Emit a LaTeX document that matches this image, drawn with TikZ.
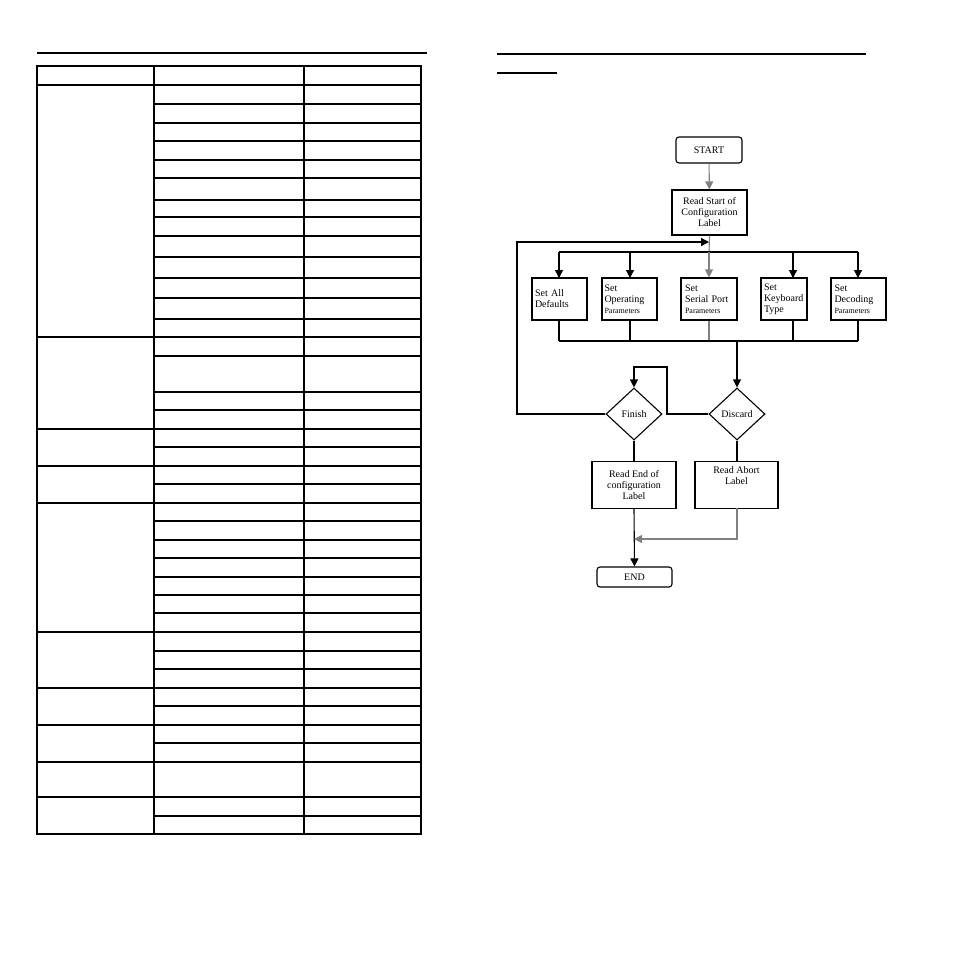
\documentclass[tikz,border=0pt]{standalone}
\usepackage{fontspec}
\setmainfont{Liberation Serif}
\usetikzlibrary{shapes.geometric,arrows.meta}
\newcommand{\smallp}{\fontsize{8}{10}\selectfont}
\begin{document}
\begin{tikzpicture}[x=1pt,y=-1pt,
  thin/.style={line width=1.1pt},
  thick/.style={line width=2pt},
  fbox/.style={draw,thin,rectangle,inner sep=0pt,align=center,font=\fontsize{10}{11}\selectfont},
  sbox/.style={fbox,align=left,minimum height=42pt},
  term/.style={fbox,rounded corners=3pt},
  dec/.style={draw,thin,diamond,inner sep=0pt,minimum width=56pt,minimum height=52pt,font=\fontsize{10}{11}\selectfont},
  conn/.style={thin,-{Triangle[length=8pt,width=8pt]}},
  line/.style={thin}]
\useasboundingbox (0,0) rectangle (966,954);
% ---- table ----
\draw[thick] (37,53) -- (427,53);
\draw[thick] (37,66) rectangle (421,834);
\draw[thick] (154,66) -- (154,834);
\draw[thick] (304,66) -- (304,834);
\draw[thick] (37,85) -- (421,85);
\foreach \y in {337,429,466,503,632,688,725,762,797} \draw[thick] (37,\y) -- (421,\y);
\foreach \y in {104,141,178,200,217,236,298,319,356,410,447,484,521,558,577,595,613,651,669,706,743,816} \draw[thin] (154,\y) -- (421,\y);
\foreach \y in {123,160,257,278,392,540} \draw[thick] (154,\y) -- (421,\y);
% ---- flowchart ----
\draw[thick] (497,54) -- (866,54);
\draw[thick] (497,73) -- (557,73);
\node[term,minimum width=66pt,minimum height=26pt] (start) at (709,150) {START};
\node[fbox,minimum width=75pt,minimum height=45pt] (rs) at (709.5,212.5) {Read Start of\\Configuration\\Label};
\coordinate (tap) at (709,252);
\coordinate (loopin) at (709,242);
\draw[conn,gray] (start) -- (rs);
\draw[line,gray] (rs.south) -- (tap);
\node[sbox,minimum width=55pt,text width=49pt] (b1) at (559.5,299) {Set All\\Defaults\\[8pt]};
\node[sbox,minimum width=55pt,text width=50pt] (b2) at (629.5,299) {Set\\Operating\\{\smallp Parameters}};
\node[sbox,minimum width=56pt,text width=48pt] (b3) at (709,299) {Set\\Serial Port\\{\smallp Parameters}};
\node[sbox,minimum width=46pt,text width=40pt] (b4) at (784,299) {Set\\Keyboard\\Type};
\node[sbox,minimum width=55pt,text width=48pt] (b5) at (858.5,299) {Set\\Decoding\\{\smallp Parameters}};
\draw[line] (559,252) -- (858,252);
\foreach \n/\x in {b1/559,b2/630,b4/793,b5/858} \draw[conn] (\x,252) -- (\x,278);
\draw[conn,gray] (tap) -- (b3.north);
\foreach \x in {559,630,793,858} \draw[line] (\x,320) -- (\x,341);
\draw[line,gray] (b3.south) -- (709,341);
\draw[line] (559,341) -- (858,341);
\node[dec] (fin) at (634,414) {Finish};
\node[dec] (dis) at (737,414) {Discard};
\draw[conn] (737,341) -- (dis.north);
\draw[conn] (dis.west) -- (667,414) -- (667,367) -- (634,367) -- (fin.north);
\draw[conn] (fin.west) -- (517,414) -- (517,242) -- (loopin);
\node[fbox,minimum width=84pt,minimum height=47pt,anchor=north] (re) at (634,461) {Read End of\\configuration\\Label};
\node[fbox,minimum width=83pt,minimum height=47pt,anchor=north] (ra) at (736.5,461) {Read Abort\\Label\\[9pt]};
\draw[line] (fin.south) -- (re.north);
\draw[line] (dis.south) -- (737,461);
\node[term,minimum width=75pt,minimum height=20pt] (end) at (634.5,577) {END};
\draw[conn] (re.south) -- (end.north);
\coordinate (join) at (634,539);
\draw[conn,gray] (737,508) -- (737,539) -- (join);
\end{tikzpicture}
\end{document}
